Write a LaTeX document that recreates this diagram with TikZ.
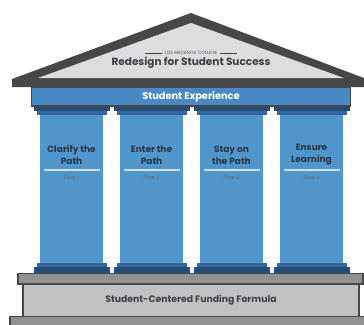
\documentclass[tikz,border=0pt]{standalone}
\usepackage{fontspec}
\setmainfont{Poppins}
\usetikzlibrary{positioning}
\definecolor{roofDark}{HTML}{464749}
\definecolor{roofLight}{HTML}{DCDDDF}
\definecolor{barBlue}{HTML}{4A8AC4}
\definecolor{shaftBlue}{HTML}{5095CB}
\definecolor{capDark}{HTML}{234C72}
\definecolor{capMid}{HTML}{31679A}
\definecolor{slabGray}{HTML}{8F9193}
\definecolor{blockGray}{HTML}{BFC1C3}
\definecolor{textDark}{HTML}{3D4044}
\definecolor{pillarText}{HTML}{2A3747}
\tikzset{
    x=1pt, y=-1pt, % one unit is one pixel, y runs down
    every node/.style={inner sep=0pt, outer sep=0pt}, % tight boxes
    node distance=80pt, % distance between two pillars
}

\begin{document}
\begin{tikzpicture}[
                        styleShaft/.style={fill=shaftBlue, minimum width=63pt, minimum height=148pt},
                        styleCapTop/.style={fill=capDark, minimum width=76pt, minimum height=4pt},
                        styleCapLow/.style={fill=capMid, minimum width=70pt, minimum height=4pt},
                        styleBaseTop/.style={fill=capMid, minimum width=70pt, minimum height=4pt},
                        styleBaseLow/.style={fill=capDark, minimum width=76pt, minimum height=6pt},
                        styleTitle/.style={align=center, text=pillarText, font=\fontsize{9}{12}\selectfont\bfseries},
                        styleTag/.style={text=pillarText!75, font=\fontsize{5}{6}\selectfont},
                        styleRule/.style={fill=white!70!shaftBlue, minimum width=56pt, minimum height=1.2pt},
                    ]
    \useasboundingbox (0,0) rectangle (364,324);
    % roof
    \fill[roofDark] (12,87) -- (12,79) -- (191,13) -- (364,78) -- (364,87) -- cycle;
    \fill[roofLight] (38,78) -- (191,23) -- (344,78) -- cycle;
    \node[text=textDark!85, font=\fontsize{4.6}{5}\selectfont] (lmc) at (191,53) {LOS MEDANOS COLLEGE};
    \draw[textDark, line width=0.6pt] ([xshift=-2.5pt]lmc.west) -- ++(-17pt,0);
    \draw[textDark, line width=0.6pt] ([xshift=2.5pt]lmc.east) -- ++(17pt,0);
    \node[text=textDark, font=\fontsize{10.5}{12}\selectfont\bfseries] (title) at (191,63) {Redesign for Student Success};
    \node[fill=barBlue, draw=roofDark, line width=1.5pt, minimum width=319pt, minimum height=19pt,
          text=white, font=\fontsize{9.8}{10}\selectfont\bfseries] (exp) at (191,96.5) {Student Experience};
    % pillars
    \node[styleShaft] (p1) at (71.5,189) {};
    \node[styleShaft, right of=p1] (p2) {};
    \node[styleShaft, right of=p2] (p3) {};
    \node[styleShaft, right of=p3] (p4) {};
    \foreach \p in {p1,p2,p3,p4}{
        \node[styleCapLow, above=0pt of \p] (\p c) {};
        \node[styleCapTop, above=0pt of \p c] {};
        \node[styleBaseTop, below=0pt of \p] (\p b) {};
        \node[styleBaseLow, below=0pt of \p b] {};
        \node[styleRule] (\p r) at ([yshift=-55pt]\p.north) {};
    }
    \node[styleTitle] (t1) at ([yshift=-40pt]p1.north) {Clarify the\\Path};
    \node[styleTitle] (t2) at ([yshift=-40pt]p2.north) {Enter the\\Path};
    \node[styleTitle] (t3) at ([yshift=-40pt]p3.north) {Stay on\\the Path};
    \node[styleTitle] (t4) at ([yshift=-40pt]p4.north) {Ensure\\Learning};
    \node[styleTag, below=5pt of p1r] (s1) {Pillar 1};
    \node[styleTag, below=5pt of p2r] (s2) {Pillar 2};
    \node[styleTag, below=5pt of p3r] (s3) {Pillar 3};
    \node[styleTag, below=5pt of p4r] (s4) {Pillar 4};
    % foundation
    \draw[fill=slabGray, draw=roofDark, line width=1.2pt] (18,273.5) rectangle (363,284);
    \node[fill=blockGray, draw=roofDark, line width=1.2pt, minimum width=336pt, minimum height=32.5pt,
          text=textDark, font=\fontsize{9.3}{10}\selectfont\bfseries] (fund) at (191,300.25) {Student-Centered Funding Formula};
    \draw[fill=slabGray, draw=roofDark, line width=1.2pt] (10,316.5) rectangle (370,330);
\end{tikzpicture}
\end{document}
